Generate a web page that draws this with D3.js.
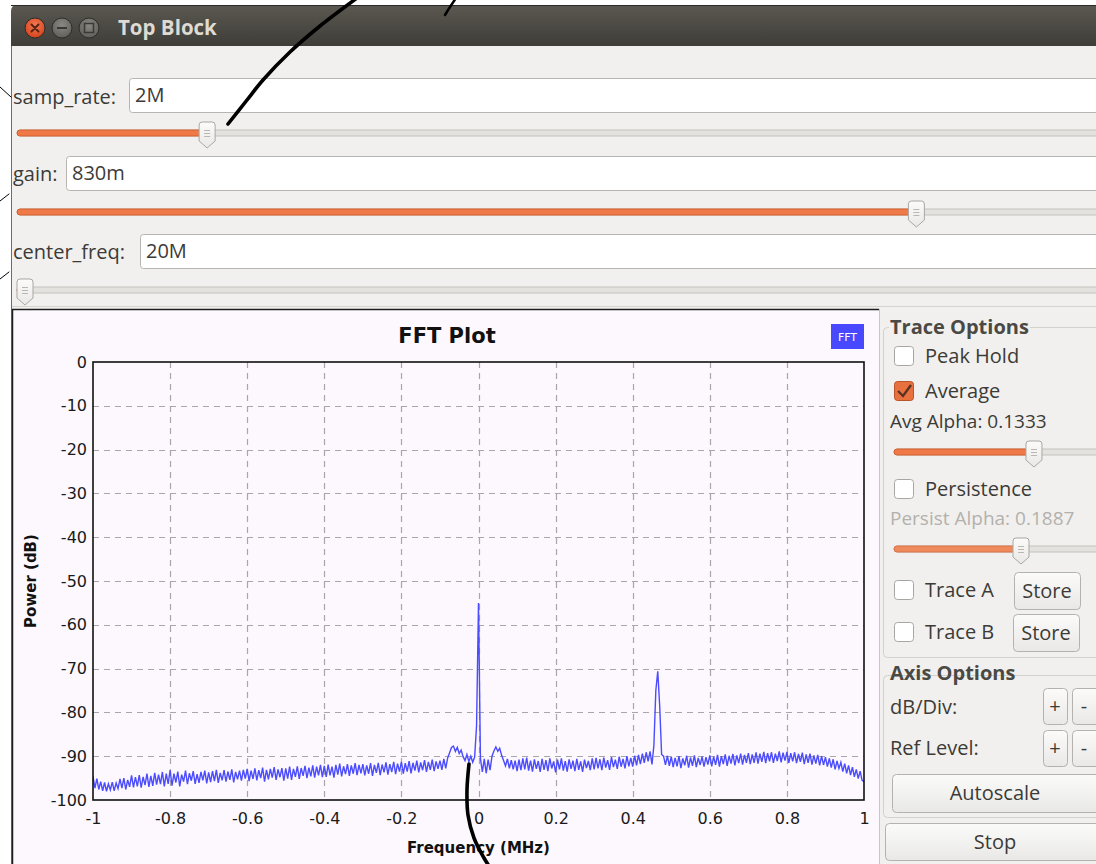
<!DOCTYPE html>
<html>
<head>
<meta charset="utf-8">
<script src="https://cdn.jsdelivr.net/npm/d3@7"></script>
<style>
  html, body { margin: 0; padding: 0; background: #ffffff; }
  svg { display: block; }
  .ui { font-family: "Open Sans", "Noto Sans", sans-serif; }
  .plot { font-family: "DejaVu Sans", sans-serif; }
</style>
</head>
<body>
<svg id="chart" width="1096" height="864"></svg>
<script>
// ---- FFT trace: power per bin, bins start at -1 MHz, 0.005 MHz apart ----
const freqStartMHz = -1;
const freqStepMHz = 0.005;
const powerDb = [
  -94.6,-97.3,-95.1,-97.6,-95.8,-97.9,-96.0,-98.0,-96.3,-97.7,-95.9,-97.9,-96.1,-97.4,-95.2,-97.3,-95.0,-97.6,-95.4,-97.0,
  -94.4,-97.1,-94.8,-96.9,-94.3,-97.2,-94.7,-96.6,-94.0,-97.0,-94.5,-96.8,-93.8,-96.5,-94.2,-96.4,-93.6,-96.9,-94.0,-96.3,
  -93.2,-96.7,-94.0,-96.0,-93.5,-96.9,-94.2,-95.8,-93.3,-96.4,-93.9,-95.6,-93.4,-96.3,-94.1,-96.1,-93.6,-95.5,-93.3,-96.2,
  -93.7,-95.9,-93.4,-95.7,-93.1,-96.1,-93.8,-95.5,-93.2,-95.8,-93.5,-95.4,-93.0,-96.0,-93.6,-95.3,-93.3,-95.6,-93.1,-95.1,
  -92.9,-95.7,-93.3,-95.2,-92.8,-95.5,-93.2,-95.0,-92.6,-95.8,-93.1,-95.3,-92.9,-94.9,-92.5,-95.4,-93.0,-94.8,-92.7,-95.6,
  -92.8,-95.1,-92.4,-95.4,-92.9,-94.7,-92.3,-95.2,-92.7,-94.5,-92.2,-95.0,-92.6,-94.6,-92.1,-94.9,-92.4,-94.4,-92.0,-94.8,
  -92.2,-94.7,-91.9,-94.4,-92.4,-94.9,-92.0,-94.2,-91.7,-94.6,-92.3,-94.1,-91.8,-94.5,-92.1,-94.0,-91.6,-94.3,-92.0,-93.9,
  -91.8,-94.4,-92.1,-94.0,-91.6,-94.5,-92.0,-93.8,-91.5,-94.3,-91.9,-93.7,-91.4,-94.2,-91.8,-93.6,-91.3,-94.1,-91.7,-93.5,
  -91.3,-94.0,-91.6,-93.5,-91.1,-93.9,-91.5,-93.3,-91.0,-93.7,-91.4,-93.2,-90.9,-93.6,-91.3,-93.1,-90.8,-93.4,-91.2,-92.9,
  -91.0,-93.1,-90.6,-92.8,-90.4,-89.2,-88.0,-87.7,-88.9,-88.0,-89.4,-88.6,-90.1,-91.0,-89.6,-91.2,-90.0,-91.4,-90.2,-83.0,
  -55.0,-90.5,-93.6,-90.6,-93.9,-90.8,-93.2,-90.0,-88.8,-87.9,-88.9,-88.2,-89.8,-91.0,-92.2,-90.6,-92.8,-90.9,-93.0,-91.0,
  -93.4,-90.8,-93.2,-90.5,-93.0,-90.3,-93.3,-91.0,-93.5,-90.7,-92.9,-91.1,-93.6,-90.6,-93.1,-90.9,-93.4,-90.5,-92.8,-91.2,
  -93.7,-90.8,-93.0,-90.5,-93.3,-91.1,-93.5,-90.7,-92.9,-91.0,-93.4,-90.6,-93.1,-91.2,-93.6,-90.8,-92.7,-91.1,-93.2,-90.5,
  -93.0,-90.4,-92.8,-90.7,-93.2,-90.3,-92.6,-90.9,-93.1,-90.2,-92.5,-90.8,-92.9,-90.1,-92.4,-90.6,-92.8,-90.0,-92.3,-90.4,
  -92.4,-89.9,-92.1,-89.7,-91.8,-89.4,-91.5,-89.1,-91.2,-88.9,-91.9,-87.5,-75.0,-70.6,-78.5,-89.6,-90.0,-92.0,-89.9,-92.2,
  -90.1,-92.5,-90.4,-92.3,-90.0,-92.7,-90.5,-92.1,-89.9,-92.6,-90.3,-92.2,-89.8,-92.5,-90.4,-92.0,-90.1,-92.4,-90.2,-91.9,
  -89.8,-92.3,-90.1,-92.0,-89.7,-92.4,-90.0,-91.8,-89.6,-92.2,-89.9,-91.7,-89.5,-92.1,-89.8,-91.6,-89.4,-91.9,-89.7,-91.5,
  -89.3,-91.8,-89.6,-91.5,-89.1,-91.7,-89.4,-91.3,-89.0,-91.6,-89.3,-91.2,-89.1,-91.5,-89.4,-91.1,-88.9,-91.4,-89.2,-91.0,
  -89.0,-91.5,-89.3,-91.2,-89.1,-91.6,-89.5,-91.3,-89.2,-91.8,-89.6,-91.5,-89.4,-91.9,-89.8,-91.7,-89.7,-92.1,-90.0,-92.0,
  -90.2,-92.4,-90.5,-92.6,-90.7,-93.0,-91.1,-92.8,-91.4,-93.5,-91.7,-93.9,-92.1,-94.3,-92.5,-94.7,-93.0,-95.1,-93.4,-95.5,
  -95.8
];

// ---- axis ticks ----
const freqTicks = [-1, -0.8, -0.6, -0.4, -0.2, 0, 0.2, 0.4, 0.6, 0.8, 1];
const powerTicks = [0, -10, -20, -30, -40, -50, -60, -70, -80, -90, -100];

// ---- top-of-window variable controls ----
const controlNames = ["samp_rate", "gain", "center_freq"];
const controlTexts = ["2M", "830m", "20M"];
const controlFractions = [0.171, 0.837, 0.0];   // slider position within its range

// ---- trace option settings ----
const avgAlpha = 0.1333;
const persistAlpha = 0.1887;

const svg = d3.select("#chart");
const W = 1096, H = 864;
const UI_FS = 20;

// ================= window chrome =================
const defs = svg.append("defs");
const tb = defs.append("linearGradient").attr("id", "titlebar").attr("x1", 0).attr("y1", 0).attr("x2", 0).attr("y2", 1);
tb.append("stop").attr("offset", "0").attr("stop-color", "#5b5851");
tb.append("stop").attr("offset", "1").attr("stop-color", "#3e3d38");
const closeG = defs.append("radialGradient").attr("id", "closeBtn").attr("cx", "0.5").attr("cy", "0.35").attr("r", "0.6");
closeG.append("stop").attr("offset", "0").attr("stop-color", "#f27a55");
closeG.append("stop").attr("offset", "1").attr("stop-color", "#d6461e");
const greyG = defs.append("radialGradient").attr("id", "greyBtn").attr("cx", "0.5").attr("cy", "0.35").attr("r", "0.6");
greyG.append("stop").attr("offset", "0").attr("stop-color", "#8a8882");
greyG.append("stop").attr("offset", "1").attr("stop-color", "#64625c");
const btnG = defs.append("linearGradient").attr("id", "btnFace").attr("x1", 0).attr("y1", 0).attr("x2", 0).attr("y2", 1);
btnG.append("stop").attr("offset", "0").attr("stop-color", "#fbfbfa");
btnG.append("stop").attr("offset", "1").attr("stop-color", "#e9e8e6");

svg.append("rect").attr("x", 0).attr("y", 0).attr("width", W).attr("height", H).attr("fill", "#ffffff");
// title bar
svg.append("path")
  .attr("d", `M11,46 L11,11 Q11,5 17,5 L${W},5 L${W},46 Z`)
  .attr("fill", "url(#titlebar)");
svg.append("line").attr("x1", 11).attr("x2", W).attr("y1", 5.5).attr("y2", 5.5).attr("stroke", "#2b2a27").attr("stroke-width", 1);
// window body
svg.append("rect").attr("x", 11).attr("y", 46).attr("width", W - 11).attr("height", H - 46).attr("fill", "#f1f0ee");
svg.append("line").attr("x1", 11.5).attr("x2", 11.5).attr("y1", 46).attr("y2", H).attr("stroke", "#6e6c68");

// title buttons
const titleBtns = [{cx: 35, fill: "url(#closeBtn)"}, {cx: 62, fill: "url(#greyBtn)"}, {cx: 89, fill: "url(#greyBtn)"}];
svg.selectAll(".tbtn").data(titleBtns).join("circle")
  .attr("class", "tbtn").attr("cx", d => d.cx).attr("cy", 28).attr("r", 10)
  .attr("fill", d => d.fill).attr("stroke", "#2e2d2a").attr("stroke-width", 1);
svg.append("path").attr("d", "M31.5,24.5 L38.5,31.5 M38.5,24.5 L31.5,31.5")
  .attr("stroke", "#5a2412").attr("stroke-width", 2).attr("stroke-linecap", "round");
svg.append("line").attr("x1", 57).attr("x2", 67).attr("y1", 28).attr("y2", 28)
  .attr("stroke", "#3a3936").attr("stroke-width", 2);
svg.append("rect").attr("x", 84.5).attr("y", 23.5).attr("width", 9).attr("height", 9)
  .attr("fill", "none").attr("stroke", "#3a3936").attr("stroke-width", 1.5);
svg.append("text").attr("class", "ui").attr("x", 118).attr("y", 35)
  .attr("font-size", 20.5).attr("font-weight", "bold").attr("fill", "#dfdbd2").text("Top Block");

// ================= controls helpers =================
function sliderGroove(x0, x1, cy, fillTo) {
  svg.append("rect").attr("x", x0).attr("y", cy - 3).attr("width", x1 - x0).attr("height", 6)
    .attr("rx", 3).attr("fill", "#e4e2df").attr("stroke", "#c4c2be").attr("stroke-width", 1);
  if (fillTo > x0 + 2) {
    svg.append("rect").attr("x", x0).attr("y", cy - 3).attr("width", fillTo - x0).attr("height", 6)
      .attr("rx", 3).attr("fill", "#ef7a48").attr("stroke", "#d2602f").attr("stroke-width", 1);
  }
}
function sliderHandle(cx, cy) {
  const top = cy - 11, w = 8;
  const d = `M${cx - w},${top + 3} Q${cx - w},${top} ${cx - w + 3},${top} L${cx + w - 3},${top} Q${cx + w},${top} ${cx + w},${top + 3}
             L${cx + w},${cy + 8} L${cx},${cy + 15} L${cx - w},${cy + 8} Z`;
  svg.append("path").attr("d", d).attr("fill", "url(#btnFace)").attr("stroke", "#a9a7a3").attr("stroke-width", 1);
  [-3, 0, 3].forEach(o => svg.append("line")
    .attr("x1", cx - 3).attr("x2", cx + 3).attr("y1", cy + o + 0.5).attr("y2", cy + o + 0.5)
    .attr("stroke", "#b9b7b3").attr("stroke-width", 1));
}
function textField(x, y, h, txt) {
  svg.append("rect").attr("x", x + 0.5).attr("y", y + 0.5).attr("width", W - x + 10).attr("height", h)
    .attr("rx", 3).attr("fill", "#ffffff").attr("stroke", "#b7b5b1");
  svg.append("text").attr("class", "ui").attr("x", x + 6).attr("y", y + h / 2 + 7)
    .attr("font-size", UI_FS).attr("fill", "#3c3b37").text(txt);
}

// ================= variable controls =================
const ctrlLayout = [
  {labelY: 104, fieldX: 129, fieldY: 78, grooveY: 133},
  {labelY: 181, fieldX: 66, fieldY: 156, grooveY: 212},
  {labelY: 259, fieldX: 140, fieldY: 234, grooveY: 290}
];
const sliderX0 = 17;
const sliderScale = d3.scaleLinear().domain([0, 1]).range([25, 1090]);
controlNames.forEach((name, i) => {
  const L = ctrlLayout[i];
  svg.append("text").attr("class", "ui").attr("x", 13).attr("y", L.labelY)
    .attr("font-size", UI_FS).attr("fill", "#3c3b37").text(name + ":");
  textField(L.fieldX, L.fieldY, 34, controlTexts[i]);
  const hx = sliderScale(controlFractions[i]);
  sliderGroove(sliderX0, W + 10, L.grooveY, hx);
  sliderHandle(hx, L.grooveY);
});
svg.append("line").attr("x1", 12).attr("x2", W).attr("y1", 306.5).attr("y2", 306.5).attr("stroke", "#d6d4d0");

// ================= FFT plot widget =================
svg.append("rect").attr("x", 12).attr("y", 309).attr("width", 867).attr("height", H - 309).attr("fill", "#fdf8fd");
svg.append("path").attr("d", `M12.5,${H} L12.5,309.5 L879,309.5`).attr("fill", "none").attr("stroke", "#1e1e1e").attr("stroke-width", 1.5);
svg.append("line").attr("x1", 879.5).attr("x2", 879.5).attr("y1", 309).attr("y2", H).attr("stroke", "#c9c7c3");

const m = {left: 93, right: 864, top: 362, bottom: 800};
const x = d3.scaleLinear().domain([-1, 1]).range([m.left, m.right]);
const y = d3.scaleLinear().domain([-100, 0]).range([m.bottom, m.top]);

const plot = svg.append("g").attr("class", "plot");

// grid
plot.append("g").selectAll("line").data(freqTicks.slice(1, -1)).join("line")
  .attr("x1", d => Math.round(x(d)) + 0.5).attr("x2", d => Math.round(x(d)) + 0.5)
  .attr("y1", m.top).attr("y2", m.bottom)
  .attr("stroke", "#a8a6a8").attr("stroke-width", 1.2).attr("stroke-dasharray", "6,5");
plot.append("g").selectAll("line").data(powerTicks.slice(1, -1)).join("line")
  .attr("x1", m.left).attr("x2", m.right)
  .attr("y1", d => Math.round(y(d)) + 0.5).attr("y2", d => Math.round(y(d)) + 0.5)
  .attr("stroke", "#a8a6a8").attr("stroke-width", 1.2).attr("stroke-dasharray", "6,5");

// trace
const bins = powerDb.map((p, i) => ({f: freqStartMHz + i * freqStepMHz, p}));
const clipId = "plotClip";
defs.append("clipPath").attr("id", clipId).append("rect")
  .attr("x", m.left).attr("y", m.top).attr("width", m.right - m.left).attr("height", m.bottom - m.top);
plot.append("path").datum(bins)
  .attr("clip-path", `url(#${clipId})`)
  .attr("fill", "none").attr("stroke", "#4b4bff").attr("stroke-width", 1.4)
  .attr("d", d3.line().x(d => x(d.f)).y(d => y(d.p)));

// frame
plot.append("rect").attr("x", m.left).attr("y", m.top).attr("width", m.right - m.left).attr("height", m.bottom - m.top)
  .attr("fill", "none").attr("stroke", "#111").attr("stroke-width", 1.6);

// axes (labels only; frame drawn above)
const yAxis = d3.axisLeft(y).tickValues(powerTicks).tickSize(0).tickPadding(6).tickFormat(d => String(d));
const xAxis = d3.axisBottom(x).tickValues(freqTicks).tickSize(0).tickPadding(13).tickFormat(d => String(+d.toFixed(1)));
const gy = plot.append("g").attr("transform", `translate(${m.left},0)`).call(yAxis);
const gx = plot.append("g").attr("transform", `translate(0,${m.bottom})`).call(xAxis);
[gx, gy].forEach(g => {
  g.select(".domain").remove();
  g.selectAll("text").attr("font-family", "DejaVu Sans, sans-serif").attr("font-size", 16).attr("fill", "#1a1a1a");
});

plot.append("text").attr("x", 447).attr("y", 343).attr("text-anchor", "middle")
  .attr("font-size", 21).attr("font-weight", "bold").attr("fill", "#111").text("FFT Plot");
plot.append("text").attr("x", x(0)).attr("y", 853).attr("text-anchor", "middle")
  .attr("font-size", 15).attr("font-weight", "bold").attr("fill", "#111").text("Frequency (MHz)");
plot.append("text").attr("transform", `translate(36,${(m.top + m.bottom) / 2}) rotate(-90)`).attr("text-anchor", "middle")
  .attr("font-size", 15).attr("font-weight", "bold").attr("fill", "#111").text("Power (dB)");

// legend
plot.append("rect").attr("x", 831).attr("y", 324).attr("width", 33).attr("height", 25).attr("fill", "#4848ff");
plot.append("text").attr("x", 847.5).attr("y", 341).attr("text-anchor", "middle")
  .attr("font-size", 11).attr("fill", "#ffffff").text("FFT");

// ================= right-hand option panel =================
const ui = svg.append("g").attr("class", "ui");
function groupBox(x0, y0, y1, title, titleY) {
  ui.append("rect").attr("x", x0 + 0.5).attr("y", y0 + 0.5).attr("width", W - x0 + 10).attr("height", y1 - y0)
    .attr("rx", 4).attr("fill", "none").attr("stroke", "#d3d1cd");
  const t = ui.append("text").attr("x", 890).attr("y", titleY).attr("font-size", UI_FS).attr("font-weight", "bold")
    .attr("fill", "#4a4944").text(title);
  const bb = t.node().getBBox();
  ui.insert("rect", "text").attr("x", bb.x - 1).attr("y", y0 - 2).attr("width", bb.width + 2).attr("height", 5).attr("fill", "#f1f0ee");
}
function checkbox(cy, label, checked, textColor) {
  ui.append("rect").attr("x", 894.5).attr("y", cy - 9.5).attr("width", 19).attr("height", 19).attr("rx", 3)
    .attr("fill", checked ? "#e8713f" : "#ffffff").attr("stroke", checked ? "#b9542a" : "#a8a6a2");
  if (checked) {
    ui.append("path").attr("d", `M898,${cy} L903,${cy + 5} L911,${cy - 6}`)
      .attr("fill", "none").attr("stroke", "#5a3222").attr("stroke-width", 2.4);
  }
  ui.append("text").attr("x", 925).attr("y", cy + 7).attr("font-size", UI_FS).attr("fill", textColor || "#3c3b37").text(label);
}
function pushButton(x0, y0, x1, y1, label, cx) {
  ui.append("rect").attr("x", x0 + 0.5).attr("y", y0 + 0.5).attr("width", x1 - x0).attr("height", y1 - y0)
    .attr("rx", 4).attr("fill", "url(#btnFace)").attr("stroke", "#b4b2ae");
  ui.append("text").attr("x", cx !== undefined ? cx : (x0 + x1) / 2).attr("y", (y0 + y1) / 2 + 7)
    .attr("text-anchor", "middle").attr("font-size", UI_FS).attr("fill", "#3c3b37").text(label);
}

groupBox(883, 327, 657, "Trace Options", 334);
checkbox(356, "Peak Hold", false);
checkbox(391, "Average", true);
ui.append("text").attr("x", 890).attr("y", 428).attr("font-size", 19).attr("fill", "#3c3b37")
  .text("Avg Alpha: " + avgAlpha.toFixed(4));
const alphaScale = d3.scaleLinear().domain([0, 1]).range([894, 1944]);
(function () {
  const hx = alphaScale(avgAlpha);
  ui.append("rect").attr("x", 894).attr("y", 449).attr("width", 210).attr("height", 6).attr("rx", 3)
    .attr("fill", "#e4e2df").attr("stroke", "#c4c2be");
  ui.append("rect").attr("x", 894).attr("y", 449).attr("width", hx - 894).attr("height", 6).attr("rx", 3)
    .attr("fill", "#ef7a48").attr("stroke", "#d2602f");
  sliderHandle(hx, 452);
})();
checkbox(489, "Persistence", false);
ui.append("text").attr("x", 890).attr("y", 525).attr("font-size", 19).attr("fill", "#b3b1ad")
  .text("Persist Alpha: " + persistAlpha.toFixed(4));
(function () {
  const hx = 1021;
  ui.append("rect").attr("x", 894).attr("y", 546).attr("width", 210).attr("height", 6).attr("rx", 3)
    .attr("fill", "#e4e2df").attr("stroke", "#c4c2be");
  ui.append("rect").attr("x", 894).attr("y", 546).attr("width", hx - 894).attr("height", 6).attr("rx", 3)
    .attr("fill", "#ef8a5c").attr("stroke", "#d9724a");
  sliderHandle(hx, 549);
})();
checkbox(590, "Trace A", false);
pushButton(1014, 572, 1080, 609, "Store");
checkbox(632, "Trace B", false);
pushButton(1013, 614, 1079, 651, "Store");

groupBox(883, 675, 817, "Axis Options", 680);
ui.append("text").attr("x", 890).attr("y", 714).attr("font-size", UI_FS).attr("fill", "#3c3b37").text("dB/Div:");
ui.append("text").attr("x", 890).attr("y", 755).attr("font-size", UI_FS).attr("fill", "#3c3b37").text("Ref Level:");
pushButton(1043, 688, 1067, 724, "+");
pushButton(1072, 688, 1102, 724, "-", 1084);
pushButton(1043, 730, 1067, 766, "+");
pushButton(1072, 730, 1102, 766, "-", 1084);
pushButton(892, 774, 1110, 812, "Autoscale", 995);
pushButton(885, 823, 1110, 860, "Stop", 995);

// ================= pen strokes drawn over the window =================
const ink = svg.append("g").attr("fill", "none").attr("stroke", "#000").attr("stroke-linecap", "round");
const inkLine = d3.line().curve(d3.curveCatmullRom);
ink.append("path").attr("d", inkLine([[228, 124], [247, 100], [263, 80], [290, 52], [320, 26], [357, -2]]))
  .attr("stroke-width", 3.6);
ink.append("path").attr("d", inkLine([[445, 15], [450, 7], [456, -2]])).attr("stroke-width", 2.5);
ink.append("path").attr("d", inkLine([[469, 764], [467, 790], [468, 815], [474, 838], [484, 858], [489, 866]]))
  .attr("stroke-width", 3.6);
ink.append("path").attr("d", "M0,87 L11,97 M0,201 L9,194 M0,279 L9,272").attr("stroke-width", 1);
</script>
</body>
</html>
